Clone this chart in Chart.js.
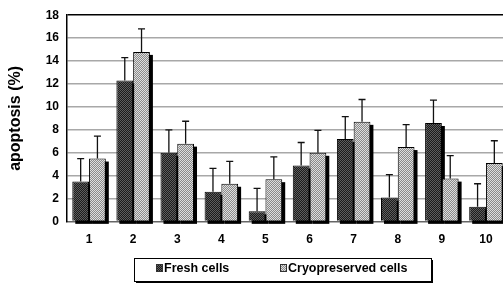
<!DOCTYPE html>
<html>
<head>
<meta charset="utf-8">
<script src="https://cdn.jsdelivr.net/npm/chart.js@4"></script>
<style>
html,body{margin:0;padding:0;background:#fff;overflow:hidden;}
#wrap{width:508px;height:283px;}
</style>
</head>
<body>
<div id="wrap"><canvas id="c" width="508" height="283"></canvas></div>
<script>
const categories = ['1','2','3','4','5','6','7','8','9','10'];
const seriesNames = ['Fresh cells','Cryopreserved cells'];
const freshValues = [3.5, 12.3, 6.0, 2.6, 0.9, 4.9, 7.2, 2.1, 8.6, 1.3];
const freshErrors = [2.0, 2.0, 2.0, 2.05, 2.0, 2.0, 1.95, 2.0, 2.0, 2.0];
const cryoValues = [5.5, 14.8, 6.8, 3.3, 3.7, 6.0, 8.7, 6.5, 3.75, 5.1];
const cryoErrors = [1.95, 2.0, 1.95, 1.95, 1.95, 1.95, 1.95, 1.95, 2.0, 1.95];
const yTicks = [0, 2, 4, 6, 8, 10, 12, 14, 16, 18];
const yTitle = 'apoptosis (%)';

const FONT = '"Liberation Sans", Arial, sans-serif';

function checker(a, b) {
  const c = document.createElement('canvas');
  c.width = 2; c.height = 2;
  const x = c.getContext('2d');
  x.fillStyle = a; x.fillRect(0, 0, 2, 2);
  x.fillStyle = b; x.fillRect(0, 0, 1, 1); x.fillRect(1, 1, 1, 1);
  return x.createPattern(c, 'repeat');
}
const ctx = document.getElementById('c').getContext('2d');
const freshFill = checker('#1c1c1c', '#5e5e5e');
const cryoFill = checker('#8a8a8a', '#dedede');
const errorSets = [freshErrors, cryoErrors];

const shadowPlugin = {
  id: 'shadows',
  beforeDatasetsDraw(chart) {
    const c = chart.ctx;
    c.save();
    c.fillStyle = '#000';
    chart.data.datasets.forEach((ds, i) => {
      chart.getDatasetMeta(i).data.forEach(bar => {
        const w = bar.width;
        c.fillRect(bar.x - w / 2 + 3, bar.y + 3, w, bar.base - bar.y);
      });
    });
    c.restore();
  },
  afterDatasetsDraw(chart) {
    const c = chart.ctx;
    const ys = chart.scales.y;
    c.save();
    c.strokeStyle = '#111';
    c.lineWidth = 1.3;
    chart.data.datasets.forEach((ds, i) => {
      chart.getDatasetMeta(i).data.forEach((bar, j) => {
        const top = ys.getPixelForValue(ds.data[j] + errorSets[i][j]);
        c.beginPath();
        c.moveTo(bar.x, bar.y);
        c.lineTo(bar.x, top);
        c.moveTo(bar.x - 3.5, top);
        c.lineTo(bar.x + 3.5, top);
        c.stroke();
      });
    });
    c.restore();
  },
  afterDraw(chart) {
    const c = chart.ctx;
    c.save();
    const bx = 134, by = 258, bw = 297, bh = 23;
    c.fillStyle = '#000';
    c.fillRect(bx + 2, by + 2, bw, bh);
    c.fillStyle = '#fff';
    c.fillRect(bx, by, bw, bh);
    c.strokeStyle = '#000';
    c.lineWidth = 1;
    c.strokeRect(bx + 0.5, by + 0.5, bw, bh);
    const items = [
      { x: 156, fill: freshFill, label: chart.data.datasets[0].label },
      { x: 280, fill: cryoFill, label: chart.data.datasets[1].label }
    ];
    c.font = 'bold 12.5px ' + FONT;
    c.textBaseline = 'middle';
    items.forEach(it => {
      c.fillStyle = it.fill;
      c.fillRect(it.x, 264, 7, 8);
      c.strokeStyle = '#333';
      c.strokeRect(it.x + 0.5, 264.5, 6, 7);
      c.fillStyle = '#000';
      c.fillText(it.label, it.x + 8, 269);
    });
    c.restore();
  }
};

new Chart(ctx, {
  type: 'bar',
  data: {
    labels: categories,
    datasets: [
      { label: seriesNames[0], data: freshValues, backgroundColor: freshFill, borderColor: '#000', borderWidth: 1 },
      { label: seriesNames[1], data: cryoValues, backgroundColor: cryoFill, borderColor: '#000', borderWidth: 1 }
    ]
  },
  options: {
    responsive: false,
    animation: false,
    devicePixelRatio: 1,
    categoryPercentage: 0.76,
    barPercentage: 1.0,
    layout: { padding: { top: 7, right: 0, bottom: 25, left: 0 } },
    plugins: { legend: { display: false }, tooltip: { enabled: false } },
    scales: {
      x: {
        grid: { display: false, drawTicks: false },
        border: { display: true, color: '#666', width: 1 },
        ticks: { color: '#000', padding: 11, font: { family: FONT, size: 12, weight: 'bold' } }
      },
      y: {
        min: 0, max: 18,
        afterBuildTicks(scale) { scale.ticks = yTicks.map(v => ({ value: v })); },
        afterFit(scale) { scale.width = 67; },
        grid: {
          drawTicks: false,
          color: ctx => ctx.tick && ctx.tick.value === 18 ? '#000' : (ctx.tick && ctx.tick.value === 0 ? '#666' : '#a8a8a8'),
          lineWidth: 1.5
        },
        border: { display: true, color: '#000', width: 1.5 },
        ticks: { color: '#000', padding: 8, font: { family: FONT, size: 12, weight: 'bold' } },
        title: { display: true, text: yTitle, color: '#000', padding: { top: 6, bottom: 0 }, font: { family: FONT, size: 16, weight: 'bold' } }
      }
    }
  },
  plugins: [shadowPlugin]
});
</script>
</body>
</html>
